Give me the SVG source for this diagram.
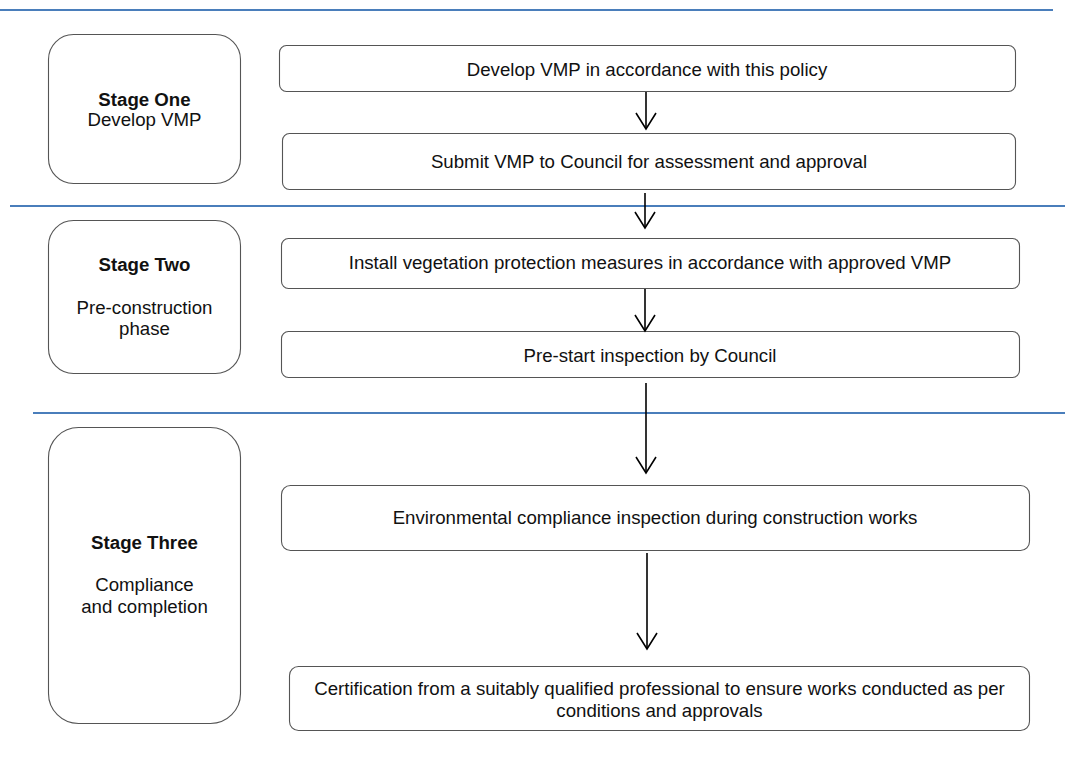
<svg xmlns="http://www.w3.org/2000/svg" width="1065" height="776" viewBox="0 0 1065 776">
<style>
.bg{fill:#ffffff}
.sep{stroke:#4a7ebb;stroke-width:2.2;fill:none}
.box{fill:#ffffff;stroke:#555555;stroke-width:1.1}
.t{font-family:"Liberation Sans",Arial,sans-serif;font-size:18.67px;fill:#111111;text-anchor:middle}
.b{font-weight:bold}
.conn{stroke:#000000;stroke-width:1.6;fill:none}
</style>
<defs>
<marker id="vhead" markerUnits="userSpaceOnUse" viewBox="-18 -12 20 24" refX="0" refY="0" markerWidth="20" markerHeight="24" orient="auto" overflow="visible">
<path d="M-16,-10 L0,0 L-16,10" fill="none" stroke="#000000" stroke-width="1.6"/>
</marker>
</defs>
<rect class="bg" x="0" y="0" width="1065" height="776"/>
<g id="separators">
<line class="sep" x1="0" y1="10" x2="1053" y2="10"/>
<line class="sep" x1="10" y1="206" x2="1065" y2="206"/>
<line class="sep" x1="33" y1="413" x2="1065" y2="413"/>
</g>
<g id="stage-one">
<rect class="box" x="48.5" y="34.5" width="192" height="149" rx="25" ry="25"/>
<text class="t b" x="144.5" y="106">Stage One</text>
<text class="t" x="144.5" y="126">Develop VMP</text>
</g>
<g id="stage-two">
<rect class="box" x="48.5" y="220.5" width="192" height="153" rx="25" ry="25"/>
<text class="t b" x="144.5" y="271">Stage Two</text>
<text class="t" x="144.5" y="314">Pre-construction</text>
<text class="t" x="144.5" y="335">phase</text>
</g>
<g id="stage-three">
<rect class="box" x="48.5" y="427.5" width="192" height="296" rx="30" ry="30"/>
<text class="t b" x="144.5" y="549">Stage Three</text>
<text class="t" x="144.5" y="591">Compliance</text>
<text class="t" x="144.5" y="613">and completion</text>
</g>
<g id="develop-vmp">
<rect class="box" x="279.5" y="45.5" width="736" height="46" rx="7" ry="7"/>
<text class="t" x="647" y="76">Develop VMP in accordance with this policy</text>
</g>
<g id="submit-vmp">
<rect class="box" x="282.5" y="133.5" width="733" height="56" rx="7" ry="7"/>
<text class="t" x="649" y="168">Submit VMP to Council for assessment and approval</text>
</g>
<g id="install-measures">
<rect class="box" x="281.5" y="238.5" width="738" height="50" rx="7" ry="7"/>
<text class="t" x="650" y="269">Install vegetation protection measures in accordance with approved VMP</text>
</g>
<g id="prestart-inspection">
<rect class="box" x="281.5" y="331.5" width="738" height="46" rx="7" ry="7"/>
<text class="t" x="650" y="362">Pre-start inspection by Council</text>
</g>
<g id="compliance-inspection">
<rect class="box" x="281.5" y="485.5" width="748" height="65" rx="9" ry="9"/>
<text class="t" x="655" y="524">Environmental compliance inspection during construction works</text>
</g>
<g id="certification">
<rect class="box" x="289.5" y="666.5" width="740" height="64" rx="9" ry="9"/>
<text class="t" x="659.5" y="695">Certification from a suitably qualified professional to ensure works conducted as per</text>
<text class="t" x="659.5" y="717">conditions and approvals</text>
</g>
<g id="connectors">
<line class="conn" x1="646" y1="92" x2="646" y2="129" marker-end="url(#vhead)"/>
<line class="conn" x1="645" y1="193" x2="645" y2="228" marker-end="url(#vhead)"/>
<line class="conn" x1="645" y1="289" x2="645" y2="331" marker-end="url(#vhead)"/>
<line class="conn" x1="646" y1="383" x2="646" y2="473" marker-end="url(#vhead)"/>
<line class="conn" x1="647" y1="553" x2="647" y2="649" marker-end="url(#vhead)"/>
</g>
</svg>
